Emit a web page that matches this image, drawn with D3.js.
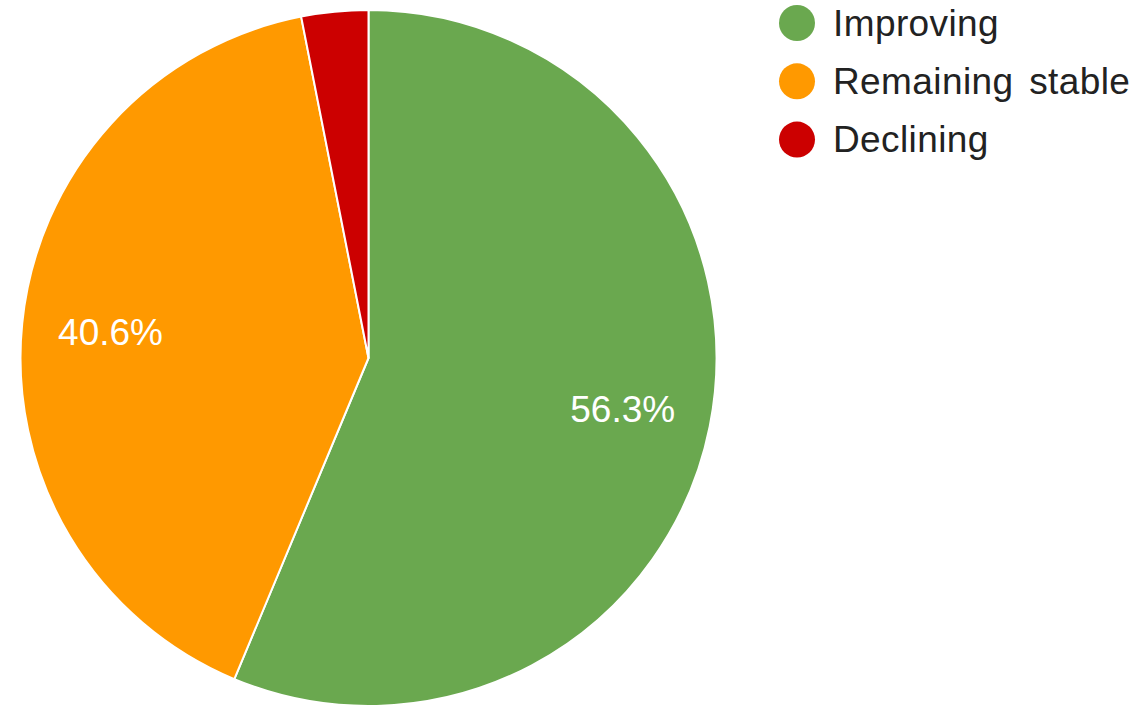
<!DOCTYPE html>
<html>
<head>
<meta charset="utf-8">
<script src="https://cdn.jsdelivr.net/npm/d3@7"></script>
<style>
  html, body { margin: 0; padding: 0; background: #fff; }
  svg { display: block; font-family: "Liberation Sans", Arial, sans-serif; }
</style>
</head>
<body>
<svg id="chart" width="1135" height="712"></svg>
<script>
// Share of respondents by outlook
const categories = ["Improving", "Remaining stable", "Declining"];
const shares = [56.3, 40.6, 3.1];
const sliceLabels = ["56.3%", "40.6%", "3.1%"];
const palette = ["#6aa84f", "#ff9900", "#cc0000"];

const width = 1135, height = 712;
const cx = 368.5, cy = 358, radius = 348;

const svg = d3.select("#chart");

const data = categories.map((c, i) => ({ name: c, value: shares[i], label: sliceLabels[i], color: palette[i] }));

const pie = d3.pie().value(d => d.value).sort(null);
const arcs = pie(data);
const arc = d3.arc().innerRadius(0).outerRadius(radius);
const labelArc = d3.arc().innerRadius(radius * 0.745).outerRadius(radius * 0.745);

const g = svg.append("g").attr("transform", `translate(${cx},${cy})`);

g.selectAll("path.slice")
  .data(arcs)
  .join("path")
  .attr("class", "slice")
  .attr("d", arc)
  .attr("fill", d => d.data.color)
  .attr("stroke", "#ffffff")
  .attr("stroke-width", 2)
  .attr("stroke-linejoin", "round");

// Percentage labels only on slices wide enough to hold them
g.selectAll("text.pct")
  .data(arcs.filter(d => d.endAngle - d.startAngle > 0.5))
  .join("text")
  .attr("class", "pct")
  .attr("transform", d => `translate(${labelArc.centroid(d)})`)
  .attr("text-anchor", "middle")
  .attr("dy", "0.36em")
  .attr("fill", "#ffffff")
  .attr("font-size", 37)
  .text(d => d.data.label);

// Legend
const legend = svg.append("g").attr("transform", "translate(797,0)");
const rows = legend.selectAll("g.row")
  .data(data)
  .join("g")
  .attr("class", "row")
  .attr("transform", (d, i) => `translate(0,${23 + i * 58.3})`);

rows.append("circle")
  .attr("r", 18)
  .attr("fill", d => d.color);

rows.append("text")
  .attr("x", 36)
  .attr("y", 12.5)
  .attr("font-size", 37)
  .attr("word-spacing", 5)
  .attr("letter-spacing", 0.4)
  .attr("fill", "#222222")
  .text(d => d.name);
</script>
</body>
</html>
